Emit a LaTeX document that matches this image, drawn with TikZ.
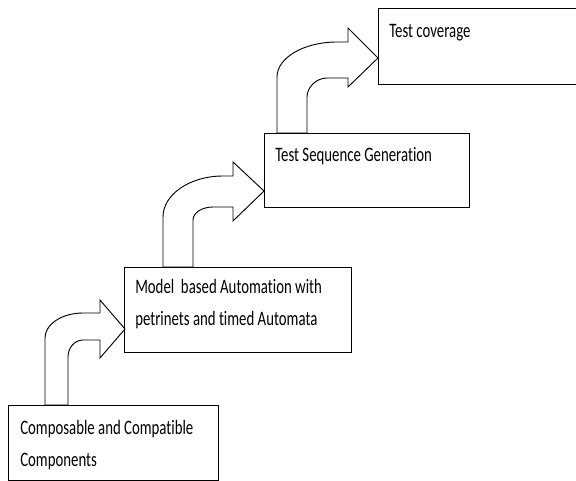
\documentclass[tikz,border=0pt]{standalone}
\usepackage{fontspec}
\setmainfont[Ligatures={NoCommon}]{Carlito}
\usepackage{graphicx}
\newcommand{\boxtext}[1]{\scalebox{1.01}[1.4]{\fontsize{11}{17}\selectfont\begin{tabular}[t]{@{}l@{}}#1\end{tabular}}}
\begin{document}
\begin{tikzpicture}[x=0.75pt,y=-0.75pt,
  stagebox/.style={draw=black,line width=0.8pt,fill=white,rectangle,anchor=north west,inner sep=0pt},
  stagetext/.style={anchor=base west,inner sep=0pt,text=black},
  bentarrow/.style={draw=black,line width=0.7pt,fill=white,line join=miter}]
\useasboundingbox (0,0) rectangle (576,481);
% boxes
\node[stagebox,minimum width=157.5pt,minimum height=56.25pt] (b1) at (8,405) {};
\node[stagebox,minimum width=170.25pt,minimum height=63.75pt] (b2) at (124,267) {};
\node[stagebox,minimum width=153.75pt,minimum height=55.5pt] (b3) at (264,133) {};
\node[stagebox,minimum width=172.5pt,minimum height=57pt] (b4) at (378,8) {};
% texts
\node[stagetext] (t1) at (20,435) {\boxtext{Composable and Compatible\\Components}};
\node[stagetext] (t2) at (135,294) {\boxtext{Model\ \ based Automation with\\petrinets and timed Automata}};
\node[stagetext] (t3) at (275,162) {\boxtext{Test Sequence Generation}};
\node[stagetext] (t4) at (389,38) {\boxtext{Test coverage}};
% bent block arrows
\draw[bentarrow] (45,405) -- (45,338) .. controls (45,324.2) and (62,313) .. (83,313)
  -- (100,313) -- (100,300) -- (125,329) -- (100,358) -- (100,340) -- (83,340)
  .. controls (74.7,340) and (68,347.6) .. (68,357) -- (68,405) -- cycle;
\draw[bentarrow] (163,267) -- (163,217) .. controls (163,194.4) and (189.9,176) .. (223,176)
  -- (233,176) -- (233,162) -- (264,191) -- (233,221) -- (233,207) -- (213,207)
  .. controls (202,207) and (193,212.8) .. (193,220) -- (193,267) -- cycle;
\draw[bentarrow] (277,133) -- (277,77) .. controls (277,57.7) and (303.9,42) .. (337,42)
  -- (348,42) -- (348,28) -- (378,58) -- (348,87) -- (348,78) -- (327,78)
  .. controls (316,78) and (307,87.5) .. (307,97) -- (307,133) -- cycle;
\end{tikzpicture}
\end{document}
